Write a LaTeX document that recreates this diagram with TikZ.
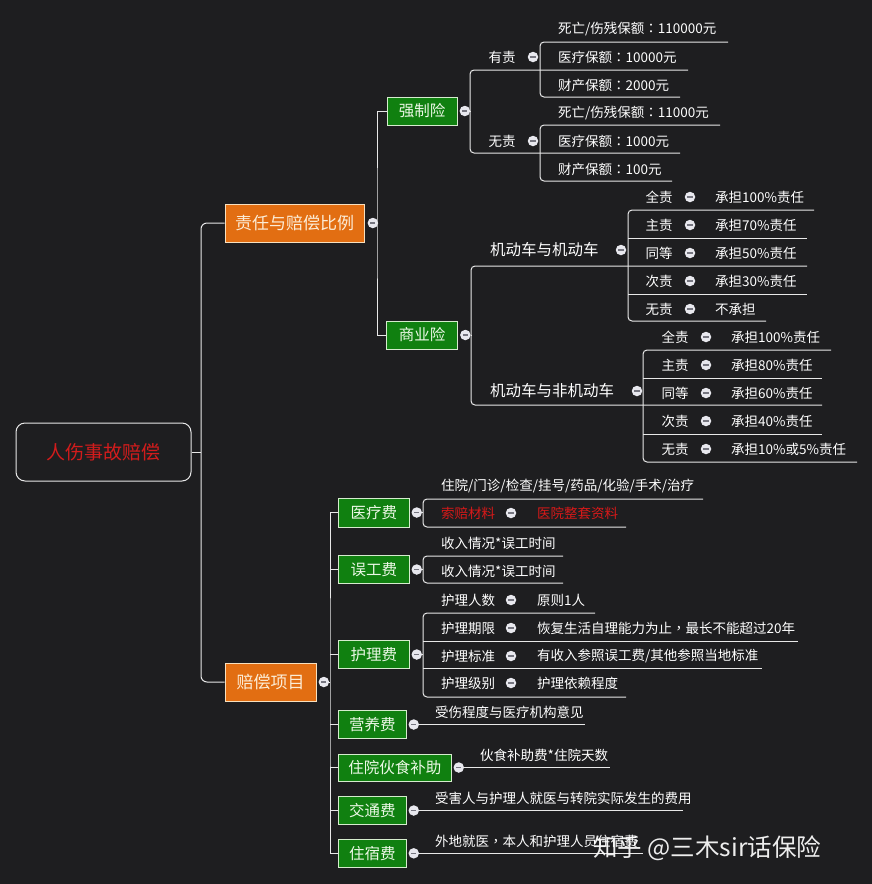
\documentclass[tikz,border=0pt]{standalone}
\usepackage{fontspec}
\setmainfont{Noto Sans CJK SC}
\newfontfamily\puncfont{Noto Sans CJK TC}
\usetikzlibrary{positioning}

\definecolor{bgdark}{RGB}{30,30,32}
\definecolor{linewhite}{RGB}{232,232,232}
\definecolor{boxgreen}{RGB}{16,128,16}
\definecolor{greenedge}{RGB}{214,236,206}
\definecolor{greentext}{RGB}{236,248,230}
\definecolor{boxorange}{RGB}{226,110,18}
\definecolor{orangeedge}{RGB}{248,224,190}
\definecolor{orangetext}{RGB}{252,236,214}
\definecolor{rootred}{RGB}{210,28,28}
\definecolor{textred}{RGB}{215,25,25}
\definecolor{foldgray}{RGB}{232,232,238}
\definecolor{minusgray}{RGB}{118,118,128}

\tikzset{
  conn/.style={draw=linewhite, line width=1pt},
  rootbox/.style={draw=linewhite, line width=1pt, rounded corners=9pt, minimum width=175pt, minimum height=58pt, text=rootred, font=\fontsize{19}{22}\selectfont},
  orangebox/.style={fill=boxorange, draw=orangeedge, line width=0.8pt, minimum height=38pt, text=orangetext, font=\fontsize{17}{20}\selectfont},
  greenbox/.style={fill=boxgreen, draw=greenedge, line width=0.8pt, minimum height=28pt, text=greentext, font=\fontsize{15.5}{18}\selectfont},
  fold/.style={circle, fill=foldgray, inner sep=0pt, minimum size=10.5pt,
    path picture={\draw[line width=1.2pt, minusgray] ([xshift=-2.6pt]path picture bounding box.center) -- ([xshift=2.6pt]path picture bounding box.center);}},
  midlabel/.style={text=white, font=\fontsize{13.5}{16}\selectfont, inner sep=0pt},
  leaf/.style={text=white, font=\fontsize{13.5}{16}\selectfont, inner sep=0pt, anchor=west},
  sublabel/.style={text=white, font=\fontsize{15.5}{18}\selectfont, inner sep=0pt, anchor=west}
}

\begin{document}
\begin{tikzpicture}[x=1pt,y=-1pt]
\fill[bgdark] (0,0) rectangle (872,884);
\useasboundingbox (0,0) rectangle (872,884);

% root and first level
\node[rootbox] (root) at (103.5,452) {人伤事故赔偿};
\node[orangebox, minimum width=139pt] (zrbl) at (294.5,223) {责任与赔偿比例};
\node[orangebox, minimum width=91pt] (pcxm) at (270.5,682) {赔偿项目};
\node[fold, right=3pt of zrbl] (zrbl-f) {};
\node[fold, right=2pt of pcxm] (pcxm-f) {};
\coordinate (t0) at (201,452);
\draw[conn] (root) -- (t0);
\draw[conn, rounded corners=6pt] (zrbl.west) -| (t0) |- (pcxm.west);

% 责任与赔偿比例
\node[greenbox, minimum width=70pt] (qzx) at (422,111) {强制险};
\node[greenbox, minimum width=71pt] (syx) at (422,335) {商业险};
\node[fold, right=2pt of qzx] (qzx-f) {};
\node[fold, right=2pt of syx] (syx-f) {};
\coordinate (b1) at (377,223);
\draw[conn] (zrbl-f) -- (b1);
\draw[conn] (qzx.west) -| (b1) |- (syx.west);

% 强制险
\node[midlabel] (yz) at (502,57) {有责};
\node[midlabel] (wz) at (502,141) {无责};
\node[fold] (yz-f) at (533,57) {};
\node[fold] (wz-f) at (533,141) {};
\draw[conn] (qzx-f) -- (470,111);
\draw[conn, rounded corners=4pt] (688,70) -- (470,70) -- (470,153) -- (680,153);
\draw[conn, rounded corners=4pt] (728,42) -- (540,42) -- (540,97) -- (680,97);
\draw[conn, rounded corners=4pt] (720,125) -- (540,125) -- (540,181) -- (672,181);
\node[leaf] (yz-1) at (558,29) {死亡/伤残保额{\puncfont ：}110000元};
\node[leaf] (yz-2) at (558,57) {医疗保额{\puncfont ：}10000元};
\node[leaf] (yz-3) at (558,85) {财产保额{\puncfont ：}2000元};
\node[leaf] (wz-1) at (558,113) {死亡/伤残保额{\puncfont ：}11000元};
\node[leaf] (wz-2) at (558,141) {医疗保额{\puncfont ：}1000元};
\node[leaf] (wz-3) at (558,169) {财产保额{\puncfont ：}100元};

% 商业险
\node[sublabel] (jj) at (490,250) {机动车与机动车};
\node[sublabel] (jf) at (490,391) {机动车与非机动车};
\node[fold] (jj-f) at (621,250) {};
\node[fold] (jf-f) at (637,391) {};
\draw[conn] (syx-f) -- (471,335);
\draw[conn, rounded corners=4pt] (807,266) -- (471,266) -- (471,405) -- (822,405);
\draw[conn, rounded corners=4pt] (814,210) -- (628,210) -- (628,321) -- (766,321);
\draw[conn] (628,238) -- (807,238) (628,294) -- (807,294);
\draw[conn, rounded corners=4pt] (831,350) -- (643,350) -- (643,462) -- (857,462);
\draw[conn] (643,378) -- (822,378) (643,434) -- (822,434);
\foreach \y/\a/\b [count=\i] in {197/全责/承担100\%责任, 225/主责/承担70\%责任, 253/同等/承担50\%责任, 281/次责/承担30\%责任, 309/无责/不承担}{
  \node[midlabel] (jj-\i) at (659,\y) {\a};
  \node[fold] (jj-\i-f) at (690,\y) {};
  \node[leaf] (jj-\i-v) at (715,\y) {\b};
}
\foreach \y/\a/\b [count=\i] in {337/全责/承担100\%责任, 365/主责/承担80\%责任, 393/同等/承担60\%责任, 421/次责/承担40\%责任, 449/无责/承担10\%或5\%责任}{
  \node[midlabel] (jf-\i) at (675,\y) {\a};
  \node[fold] (jf-\i-f) at (706,\y) {};
  \node[leaf] (jf-\i-v) at (731,\y) {\b};
}

% 赔偿项目
\node[greenbox, anchor=west, minimum width=71pt, minimum height=29pt] (ylf) at (338,512.5) {医疗费};
\node[greenbox, anchor=west, minimum width=71pt] (wgf) at (338,569.5) {误工费};
\node[greenbox, anchor=west, minimum width=71pt] (hlf) at (338,654.5) {护理费};
\node[greenbox, anchor=west, minimum width=68pt] (yyf) at (338,724.5) {营养费};
\node[greenbox, anchor=west, minimum width=113pt, minimum height=27pt] (zyhs) at (338,767.5) {住院伙食补助};
\node[greenbox, anchor=west, minimum width=68pt] (jtf) at (338,810.5) {交通费};
\node[greenbox, anchor=west, minimum width=68pt] (zsf) at (338,853.3) {住宿费};
\foreach \n in {ylf,wgf,hlf,yyf,zyhs,jtf,zsf}
  \node[fold, right=1.5pt of \n] (\n-f) {};
\coordinate (b3) at (330,682);
\draw[conn] (pcxm-f) -- (b3);
\draw[conn] (ylf.west) -| (b3) |- (zsf.west);
\foreach \n in {wgf,hlf,yyf,zyhs,jtf}
  \draw[conn] (b3 |- \n.west) -- (\n.west);

% 医疗费
\draw[conn] (ylf-f) -- (423,512.5);
\draw[conn, rounded corners=4pt] (703,499) -- (423,499) -- (423,527) -- (626,527);
\node[leaf] (ylf-1) at (441,486) {住院/门诊/检查/挂号/药品/化验/手术/治疗};
\node[leaf, text=textred] (ylf-2) at (441,513) {索赔材料};
\node[fold] (ylf-2-f) at (511,513) {};
\node[leaf, text=textred] (ylf-2-v) at (537,513) {医院整套资料};

% 误工费
\draw[conn] (wgf-f) -- (423,569.5);
\draw[conn, rounded corners=4pt] (563,556) -- (423,556) -- (423,583) -- (563,583);
\node[leaf] (wgf-1) at (441,543) {收入情况*误工时间};
\node[leaf] (wgf-2) at (441,571) {收入情况*误工时间};

% 护理费
\draw[conn] (hlf-f) -- (423,654.5);
\draw[conn, rounded corners=4pt] (595,613) -- (423,613) -- (423,697) -- (626,697);
\draw[conn] (423,641) -- (798,641) (423,668) -- (762,668);
\foreach \y/\a/\b [count=\i] in {600/护理人数/原则1人, 628/护理期限/恢复生活自理能力为止{\puncfont ，}最长不能超过20年, 656/护理标准/有收入参照误工费{/}其他参照当地标准, 683/护理级别/护理依赖程度}{
  \node[leaf] (hlf-\i) at (441,\y) {\a};
  \node[fold] (hlf-\i-f) at (511,\y) {};
  \node[leaf] (hlf-\i-v) at (537,\y) {\b};
}

% single leaves
\draw[conn] (yyf-f) -- ++(171,0);
\node[leaf] (yyf-1) at (435,712.5) {受伤程度与医疗机构意见};
\draw[conn] (zyhs-f) -- ++(151,0);
\node[leaf] (zyhs-1) at (480,755.5) {伙食补助费*住院天数};
\draw[conn] (jtf-f) -- ++(269,0);
\node[leaf] (jtf-1) at (435,798) {受害人与护理人就医与转院实际发生的费用};
\draw[conn] (zsf-f) -- ++(229,0);
\node[leaf] (zsf-1) at (435,841.5) {外地就医{\puncfont ，}本人和护理人员住宿费};

% watermark
\node[anchor=west, inner sep=0pt, text=white, opacity=0.92, font=\fontsize{24.5}{30}\selectfont] (zhihu) at (593,848) {知乎 @三木sir话保险};
\end{tikzpicture}
\end{document}
